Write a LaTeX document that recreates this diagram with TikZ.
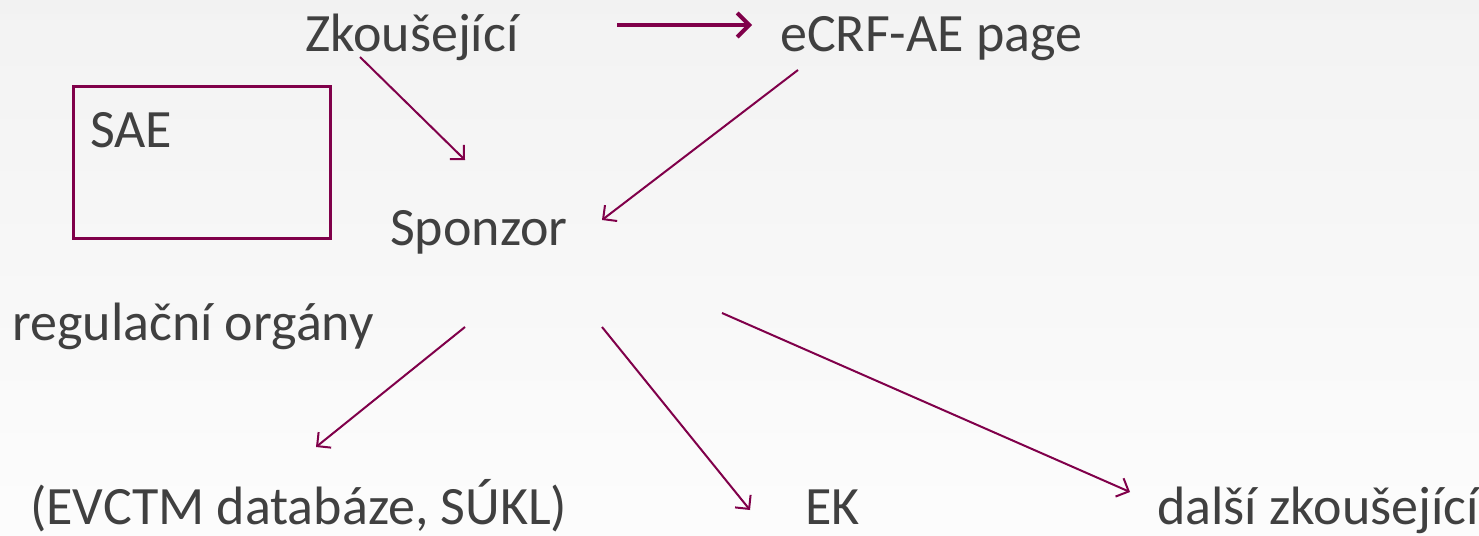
\documentclass[tikz,border=0pt]{standalone}
\usepackage{fontspec}
\setmainfont{Carlito}
\usetikzlibrary{arrows.meta}
\definecolor{txt}{HTML}{404040}
\definecolor{arr}{HTML}{80004A}
\begin{document}
\begin{tikzpicture}[x=1pt,y=-1pt,
  lbl/.style={anchor=base west,inner sep=0pt,text=txt,font=\fontsize{54}{60}\selectfont},
  conn/.style={draw=arr,line width=2pt,-{Straight Barb[length=10pt,width=20pt,line width=2pt]}},
  thickconn/.style={draw=arr,line width=4pt,-{Straight Barb[length=12pt,width=24pt,line width=4pt]}}]
\useasboundingbox (0,0) rectangle (1479,535);
\fill[top color=black!5,bottom color=black!1] (0,0) rectangle (1479,535);
\node[lbl] (zk) at (305,52) {Zkoušející};
\node[lbl] (ecrf) at (780,52) {eCRF-AE page};
\node[draw=arr,line width=3pt,minimum width=257pt,minimum height=152pt,anchor=north west] (box) at (72,85) {};
\node[lbl] (sae) at (90,147) {SAE};
\node[lbl] (sp) at (390,245) {Sponzor};
\node[lbl] (reg) at (12,340) {regulační orgány};
\node[lbl] (evctm) at (30,524) {(EVCTM databáze, SÚKL)};
\node[lbl] (ek) at (805,524) {EK};
\node[lbl] (dz) at (1157,524) {další zkoušející};
\coordinate (a1s) at (617,25); \coordinate (a1e) at (752,25);
\coordinate (a2s) at (360,57); \coordinate (a2e) at (465,160);
\coordinate (a3s) at (798,70); \coordinate (a3e) at (602,220);
\coordinate (a4s) at (465,327); \coordinate (a4e) at (316,447);
\coordinate (a5s) at (602,327); \coordinate (a5e) at (750,510);
\coordinate (a6s) at (722,313); \coordinate (a6e) at (1130,492);
\draw[thickconn] (a1s) -- (a1e);
\draw[conn] (a2s) -- (a2e);
\draw[conn] (a3s) -- (a3e);
\draw[conn] (a4s) -- (a4e);
\draw[conn] (a5s) -- (a5e);
\draw[conn] (a6s) -- (a6e);
\end{tikzpicture}
\end{document}
